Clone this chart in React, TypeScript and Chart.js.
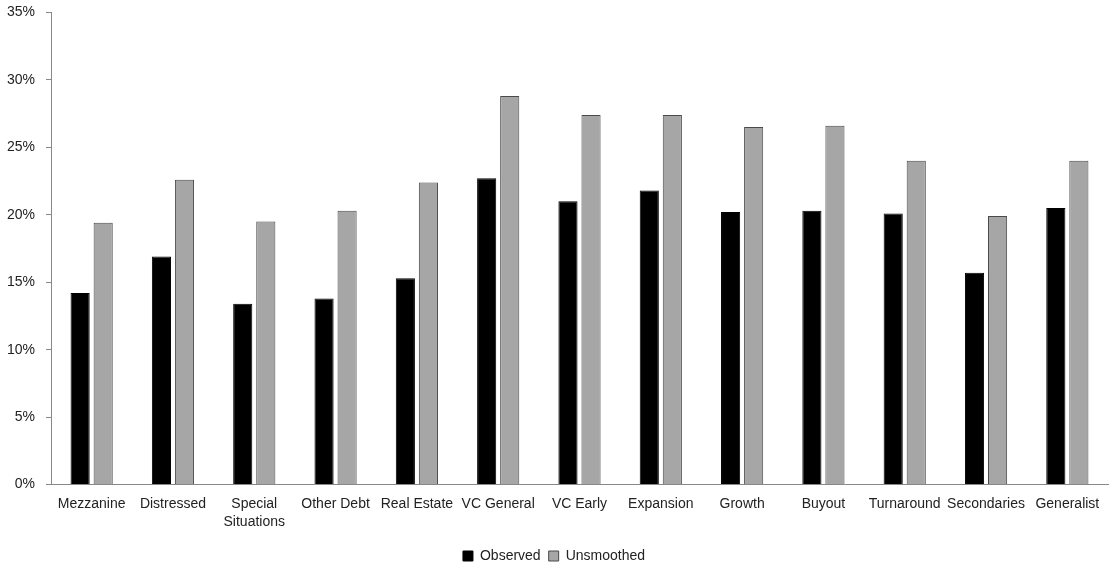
import React, { useEffect, useRef } from "react";
import { Chart, registerables } from "chart.js";

Chart.register(...registerables);

const categories: (string | string[])[] = [
  "Mezzanine",
  "Distressed",
  ["Special", "Situations"],
  "Other Debt",
  "Real Estate",
  "VC General",
  "VC Early",
  "Expansion",
  "Growth",
  "Buyout",
  "Turnaround",
  "Secondaries",
  "Generalist",
];

const observed = [0.142, 0.169, 0.134, 0.138, 0.153, 0.227, 0.210, 0.218, 0.202, 0.203, 0.201, 0.157, 0.205];
const unsmoothed = [0.194, 0.226, 0.195, 0.203, 0.224, 0.288, 0.274, 0.274, 0.265, 0.266, 0.240, 0.199, 0.240];

const yTicks = [0, 0.05, 0.1, 0.15, 0.2, 0.25, 0.3, 0.35];

const FONT = "'Liberation Sans', Arial, sans-serif";

export default function App() {
  const ref = useRef<HTMLCanvasElement | null>(null);
  useEffect(() => {
    if (!ref.current) return;
    const chart = new Chart(ref.current, {
      type: "bar",
      data: {
        labels: categories,
        datasets: [
          {
            label: "Observed",
            data: observed,
            backgroundColor: "#000000",
            borderColor: "#000000",
            borderWidth: 1,
            categoryPercentage: 0.567,
            barPercentage: 0.83,
          },
          {
            label: "Unsmoothed",
            data: unsmoothed,
            backgroundColor: "#a6a6a6",
            borderColor: "#4a4a4a",
            borderWidth: 1,
            categoryPercentage: 0.567,
            barPercentage: 0.83,
          },
        ],
      },
      options: {
        responsive: false,
        animation: false,
        maintainAspectRatio: false,
        layout: { padding: { left: 0, right: 2, top: 0, bottom: 0 } },
        plugins: {
          tooltip: { enabled: false },
          legend: {
            position: "bottom",
            labels: {
              boxWidth: 10,
              boxHeight: 10,
              padding: 8,
              color: "#222",
              font: { family: FONT, size: 14 },
            },
          },
        },
        scales: {
          x: {
            grid: { display: true, drawOnChartArea: false, drawTicks: false },
            border: { color: "#888", width: 1 },
            ticks: {
              padding: 10,
              maxRotation: 0,
              autoSkip: false,
              color: "#222",
              font: { family: FONT, size: 14, lineHeight: 1.3 },
            },
          },
          y: {
            min: 0,
            max: 0.35,
            afterBuildTicks: (axis: any) => {
              axis.ticks = yTicks.map((v) => ({ value: v }));
            },
            afterFit: (axis: any) => {
              axis.width = 51;
            },
            grid: { drawOnChartArea: false, drawTicks: true, tickLength: 5, color: "#888" },
            border: { color: "#888", width: 1 },
            ticks: {
              padding: 11,
              color: "#222",
              font: { family: FONT, size: 14 },
              callback: (v: any) => Math.round(Number(v) * 100) + "%",
            },
          },
        },
      },
    });
    return () => chart.destroy();
  }, []);
  return (
    <div style={{ position: "fixed", left: 0, top: -7, width: 1110, height: 580, background: "#fff" }}>
      <canvas ref={ref} width={1110} height={580} style={{ display: "block" }} />
    </div>
  );
}
